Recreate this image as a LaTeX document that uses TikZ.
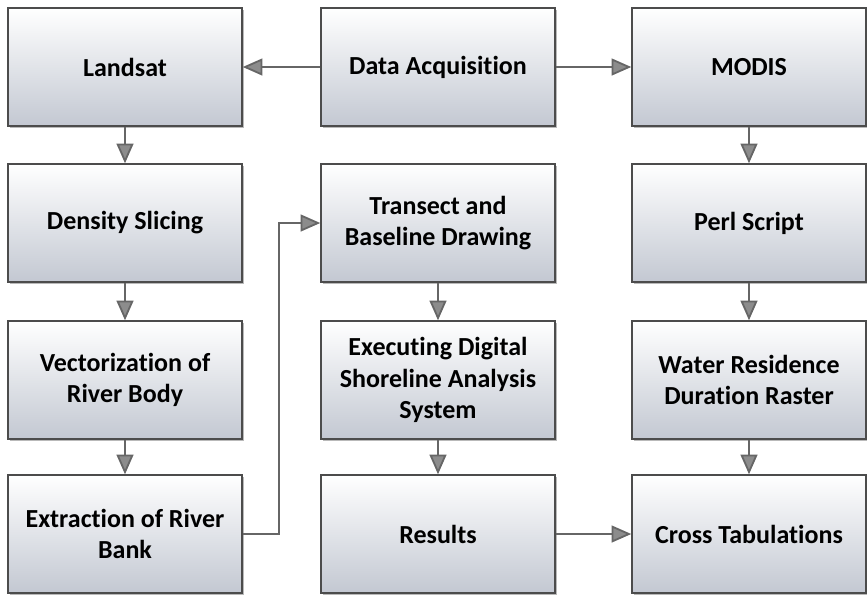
\documentclass[tikz,border=0pt]{standalone}
\usepackage{fontspec}
\setmainfont[Ligatures=NoCommon]{Carlito}
\usetikzlibrary{arrows.meta,shadows}
\definecolor{boxgray}{RGB}{195,200,210}

\begin{document}
\begin{tikzpicture}[x=0.025cm,y=-0.025cm,>={Triangle[length=14pt,width=12pt,fill=black!45]},
  thick,box node/.style={rectangle,draw=black!70,line width=1pt,top color=white,bottom color=boxgray,
    minimum width=5.85cm,minimum height=2.95cm,align=center,
    font=\fontsize{18.5}{22.5}\selectfont\bfseries,
    drop shadow={shadow xshift=1.2pt,shadow yshift=-1.2pt,fill=black!55}},
  link/.style={->,draw=black!60,line width=1.3pt}]

  \useasboundingbox (0,0) rectangle (867,594);

  \node[box node] (landsat) at (125,67) {Landsat};
  \node[box node] (acq) at (438,67) {Data Acquisition};
  \node[box node] (modis) at (749,67) {MODIS};
  \node[box node] (slice) at (125,223) {Density Slicing};
  \node[box node] (transect) at (438,223) {Transect and\\Baseline Drawing};
  \node[box node] (perl) at (749,223) {Perl Script};
  \node[box node] (vector) at (125,380) {Vectorization of\\River Body};
  \node[box node] (dsas) at (438,380) {Executing Digital\\Shoreline Analysis\\System};
  \node[box node] (raster) at (749,380) {Water Residence\\Duration Raster};
  \node[box node] (extract) at (125,534) {Extraction of River\\Bank};
  \node[box node] (results) at (438,534) {Results};
  \node[box node] (cross) at (749,534) {Cross Tabulations};

  \path[link]
    (acq) edge (landsat)
    (acq) edge (modis)
    (landsat) edge (slice)
    (slice) edge (vector)
    (vector) edge (extract)
    (transect) edge (dsas)
    (dsas) edge (results)
    (results) edge (cross)
    (modis) edge (perl)
    (perl) edge (raster)
    (raster) edge (cross);

  \draw[link] (extract.east) -- ++(36,0) |- (transect.west);

\end{tikzpicture}
\end{document}
